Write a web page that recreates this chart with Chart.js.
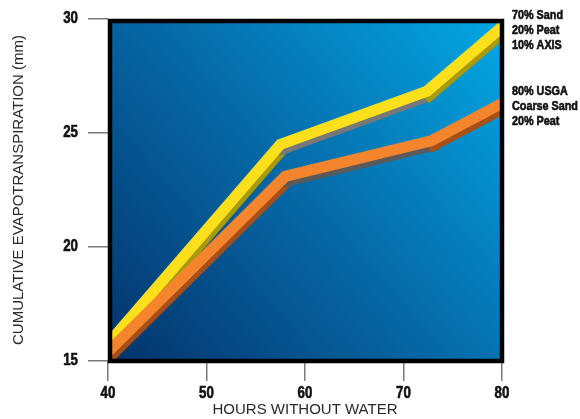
<!DOCTYPE html>
<html>
<head>
<meta charset="utf-8">
<script src="https://cdn.jsdelivr.net/npm/chart.js@4.4.1/dist/chart.umd.min.js"></script>
<style>
  html, body { margin: 0; padding: 0; background: #ffffff; }
  #wrap { width: 580px; height: 419px; position: relative; }
</style>
</head>
<body>
<div id="wrap"><canvas id="chart" width="580" height="419"></canvas></div>
<script>
// Cumulative evapotranspiration (mm) against hours without water, two root-zone mixes
const axisMixHours = [40, 57.5, 72.4, 80];
const axisMixET    = [15.75, 24.5, 26.84, 29.65];
const usgaMixHours = [40, 58, 72.8, 80];
const usgaMixET    = [15.4, 23.1, 24.66, 26.3];

const xTicks = [40, 50, 60, 70, 80];
const yTicks = [15, 20, 25, 30];

const axisMixLabel = ['70% Sand', '20% Peat', '10% AXIS'];
const usgaMixLabel = ['80% USGA', 'Coarse Sand', '20% Peat'];

const xTitle = 'HOURS WITHOUT WATER';
const yTitle = 'CUMULATIVE EVAPOTRANSPIRATION (mm)';

const toPoints = (xs, ys) => xs.map((x, i) => ({ x: x, y: ys[i] }));

const BAND = 11;
const SIDE_SHIFT = { x: 2.5, y: 4.5 };

// Side face of each ribbon: steep runs get one shade, the flat middle run another
function sideColour(steep, flat) {
  return c => (c.p0DataIndex === 1 ? flat : steep);
}

const datasets = [
  {
    label: 'axis-side', data: toPoints(axisMixHours, axisMixET), isSide: true, order: 4,
    borderColor: '#a89a08', segment: { borderColor: sideColour('#a89a08', '#787878') }
  },
  {
    label: 'axis', data: toPoints(axisMixHours, axisMixET), order: 3,
    borderColor: '#fddf1c'
  },
  {
    label: 'usga-side', data: toPoints(usgaMixHours, usgaMixET), isSide: true, order: 2,
    borderColor: '#a5501a', segment: { borderColor: sideColour('#a5501a', '#5a5a5a') }
  },
  {
    label: 'usga', data: toPoints(usgaMixHours, usgaMixET), order: 1,
    borderColor: '#f5852c'
  }
].map(d => Object.assign({
  borderWidth: BAND,
  pointRadius: 0,
  pointHoverRadius: 0,
  tension: 0,
  fill: false,
  borderCapStyle: 'square',
  borderJoinStyle: 'miter',
  clip: 0
}, d));

// Heavy condensed lettering: bold face squeezed horizontally, lightly stroked
const CONDENSE = 0.83;
function condensedText(ctx, text, x, y, size, align) {
  ctx.save();
  ctx.font = 'bold ' + size + 'px "Liberation Sans", Arial, sans-serif';
  ctx.fillStyle = '#111111';
  ctx.strokeStyle = '#111111';
  ctx.lineWidth = 0.6;
  ctx.textBaseline = 'middle';
  ctx.textAlign = align;
  ctx.translate(x, y);
  ctx.scale(CONDENSE, 1);
  ctx.fillText(text, 0, 0);
  ctx.strokeText(text, 0, 0);
  ctx.restore();
}

// Gradient panel behind the ribbons and heavy black frame on top
const panelPlugin = {
  id: 'panel',
  beforeDatasetsDraw(chart) {
    const { ctx, chartArea: a } = chart;
    const g = ctx.createLinearGradient(a.left, a.bottom, a.right, a.top);
    g.addColorStop(0, '#04336b');
    g.addColorStop(0.5, '#066aa8');
    g.addColorStop(1, '#02a8e4');
    ctx.save();
    ctx.fillStyle = g;
    ctx.fillRect(a.left, a.top, a.right - a.left, a.bottom - a.top);
    ctx.restore();
  },
  beforeDatasetDraw(chart, args) {
    const ds = chart.data.datasets[args.index];
    if (!ds.isSide) return;
    const { ctx, chartArea: a } = chart;
    ctx.save();
    ctx.beginPath();
    ctx.rect(a.left, a.top, a.right - a.left, a.bottom - a.top);
    ctx.clip();
    ctx.translate(SIDE_SHIFT.x, SIDE_SHIFT.y);
  },
  afterDatasetDraw(chart, args) {
    const ds = chart.data.datasets[args.index];
    if (ds.isSide) chart.ctx.restore();
  },
  afterDatasetsDraw(chart) {
    const { ctx, chartArea: a } = chart;
    ctx.save();
    ctx.strokeStyle = '#000000';
    ctx.lineWidth = 4.5;
    ctx.lineJoin = 'miter';
    ctx.strokeRect(a.left + 2, a.top + 2, a.right - a.left - 2, a.bottom - a.top - 2);
    ctx.restore();
  }
};

// Tick numbers placed from the chart's own scales, plus the mix descriptions on the right
const labelPlugin = {
  id: 'labels',
  afterDraw(chart) {
    const { ctx, chartArea: a, scales } = chart;
    scales.x.ticks.forEach(t => {
      condensedText(ctx, String(t.value), scales.x.getPixelForValue(t.value), 394, 16, 'center');
    });
    scales.y.ticks.forEach(t => {
      condensedText(ctx, String(t.value), a.left - 30, scales.y.getPixelForValue(t.value), 16, 'right');
    });
    const x = a.right + 10;
    axisMixLabel.forEach((t, i) => condensedText(ctx, t, x, 15 + i * 15, 13, 'left'));
    usgaMixLabel.forEach((t, i) => condensedText(ctx, t, x, 91 + i * 15, 13, 'left'));
  }
};

const titleFont = { family: '"Liberation Sans", Arial, sans-serif', size: 15, weight: 'normal' };

new Chart(document.getElementById('chart'), {
  type: 'line',
  data: { datasets: datasets },
  options: {
    responsive: false,
    animation: false,
    events: [],
    layout: { padding: { top: 19, right: 78, bottom: 0, left: 0 } },
    plugins: { legend: { display: false }, tooltip: { enabled: false } },
    scales: {
      x: {
        type: 'linear',
        min: 40, max: 80,
        afterBuildTicks: s => { s.ticks = xTicks.map(v => ({ value: v })); },
        afterFit: s => { s.height = 58; },
        border: { display: false },
        grid: { drawOnChartArea: false, drawTicks: true, tickLength: 20, tickColor: '#7a7a7a', lineWidth: 1.5 },
        ticks: { display: false },
        title: { display: true, text: xTitle, font: titleFont, color: '#2a2a2a', padding: { top: 0, bottom: 0 } }
      },
      y: {
        type: 'linear',
        min: 15, max: 30,
        afterBuildTicks: s => { s.ticks = yTicks.map(v => ({ value: v })); },
        afterFit: s => { s.width = 108; },
        border: { display: false },
        grid: { drawOnChartArea: false, drawTicks: true, tickLength: 20, tickColor: '#7a7a7a', lineWidth: 1.5 },
        ticks: { display: false },
        title: { display: true, text: yTitle, font: titleFont, color: '#2a2a2a', padding: { top: 10, bottom: 0 } }
      }
    }
  },
  plugins: [panelPlugin, labelPlugin]
});
</script>
</body>
</html>
